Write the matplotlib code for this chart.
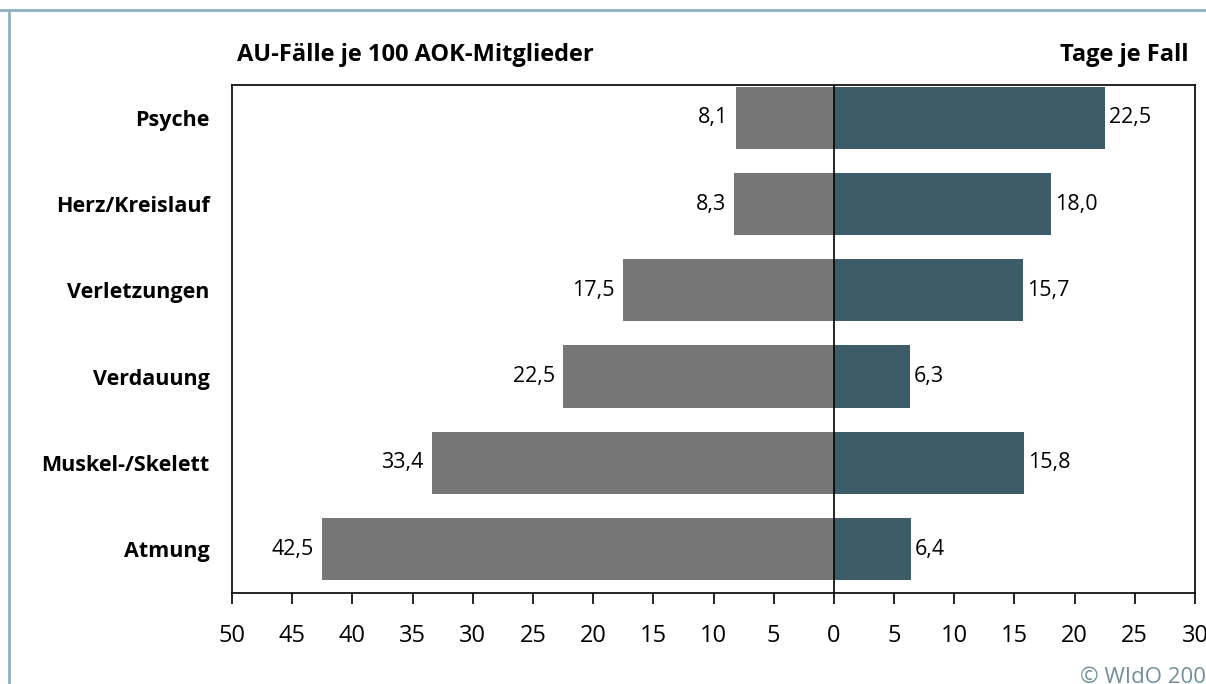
import matplotlib.pyplot as plt
from matplotlib.lines import Line2D

categories = ["Psyche", "Herz/Kreislauf", "Verletzungen", "Verdauung", "Muskel-/Skelett", "Atmung"]
au_faelle = [8.1, 8.3, 17.5, 22.5, 33.4, 42.5]   # AU-Fälle je 100 AOK-Mitglieder
tage_je_fall = [22.5, 18.0, 15.7, 6.3, 15.8, 6.4]
tick_values = list(range(-50, 31, 5))

GRAY = "#777777"
TEAL = "#3c5d67"
FRAME = "#8fb1b9"

W, H = 1206, 684
fig = plt.figure(figsize=(W / 100, H / 100), dpi=100)
plt.rcParams["font.family"] = ["Open Sans", "DejaVu Sans"]

ax = fig.add_axes([232 / W, 1 - 593 / H, (1195 - 232) / W, (593 - 85) / H])
ypos = list(range(len(categories)))

ax.barh(ypos, [-v for v in au_faelle], height=0.72, color=GRAY)
ax.barh(ypos, tage_je_fall, height=0.72, color=TEAL)
ax.axvline(0, color="black", lw=1.2)

fmt = lambda v: f"{v:.1f}".replace(".", ",")
for y, v in zip(ypos, au_faelle):
    ax.annotate(fmt(v), (-v, y), xytext=(-6, 0), textcoords="offset points",
                ha="right", va="center", fontsize=15.5)
for y, v in zip(ypos, tage_je_fall):
    ax.annotate(fmt(v), (v, y), xytext=(3, 0), textcoords="offset points",
                ha="left", va="center", fontsize=15.5)

ax.set_xlim(-50, 30)
ax.set_ylim(5.51, -0.38)
ax.set_xticks(tick_values)
ax.set_xticklabels([str(abs(t)) for t in tick_values], fontsize=17)
ax.tick_params(axis="x", length=8, width=1.2, pad=14, direction="out")
ax.set_yticks(ypos)
ax.set_yticklabels(categories, fontsize=15.5, fontweight="bold")
ax.tick_params(axis="y", length=0, pad=16)
for s in ax.spines.values():
    s.set_linewidth(1.2)

fig.text(237 / W, 1 - 55 / H, "AU-Fälle je 100 AOK-Mitglieder", fontsize=17,
         fontweight="bold", ha="left", va="center")
fig.text(1188 / W, 1 - 55 / H, "Tage je Fall", fontsize=17,
         fontweight="bold", ha="right", va="center")
# copyright runs off the lower right corner, as in the source image
fig.text(1080 / W, 1 - 667 / H, "© WIdO 2009", fontsize=16, color="#6f9099",
         ha="left", va="top")

# outer frame, cropped like the source
fig.add_artist(Line2D([0, 1], [1 - 10 / H, 1 - 10 / H], transform=fig.transFigure,
                      color=FRAME, lw=2))
fig.add_artist(Line2D([9 / W, 9 / W], [0, 1 - 10 / H], transform=fig.transFigure,
                      color=FRAME, lw=2))

fig.savefig("out.png", dpi=100)
